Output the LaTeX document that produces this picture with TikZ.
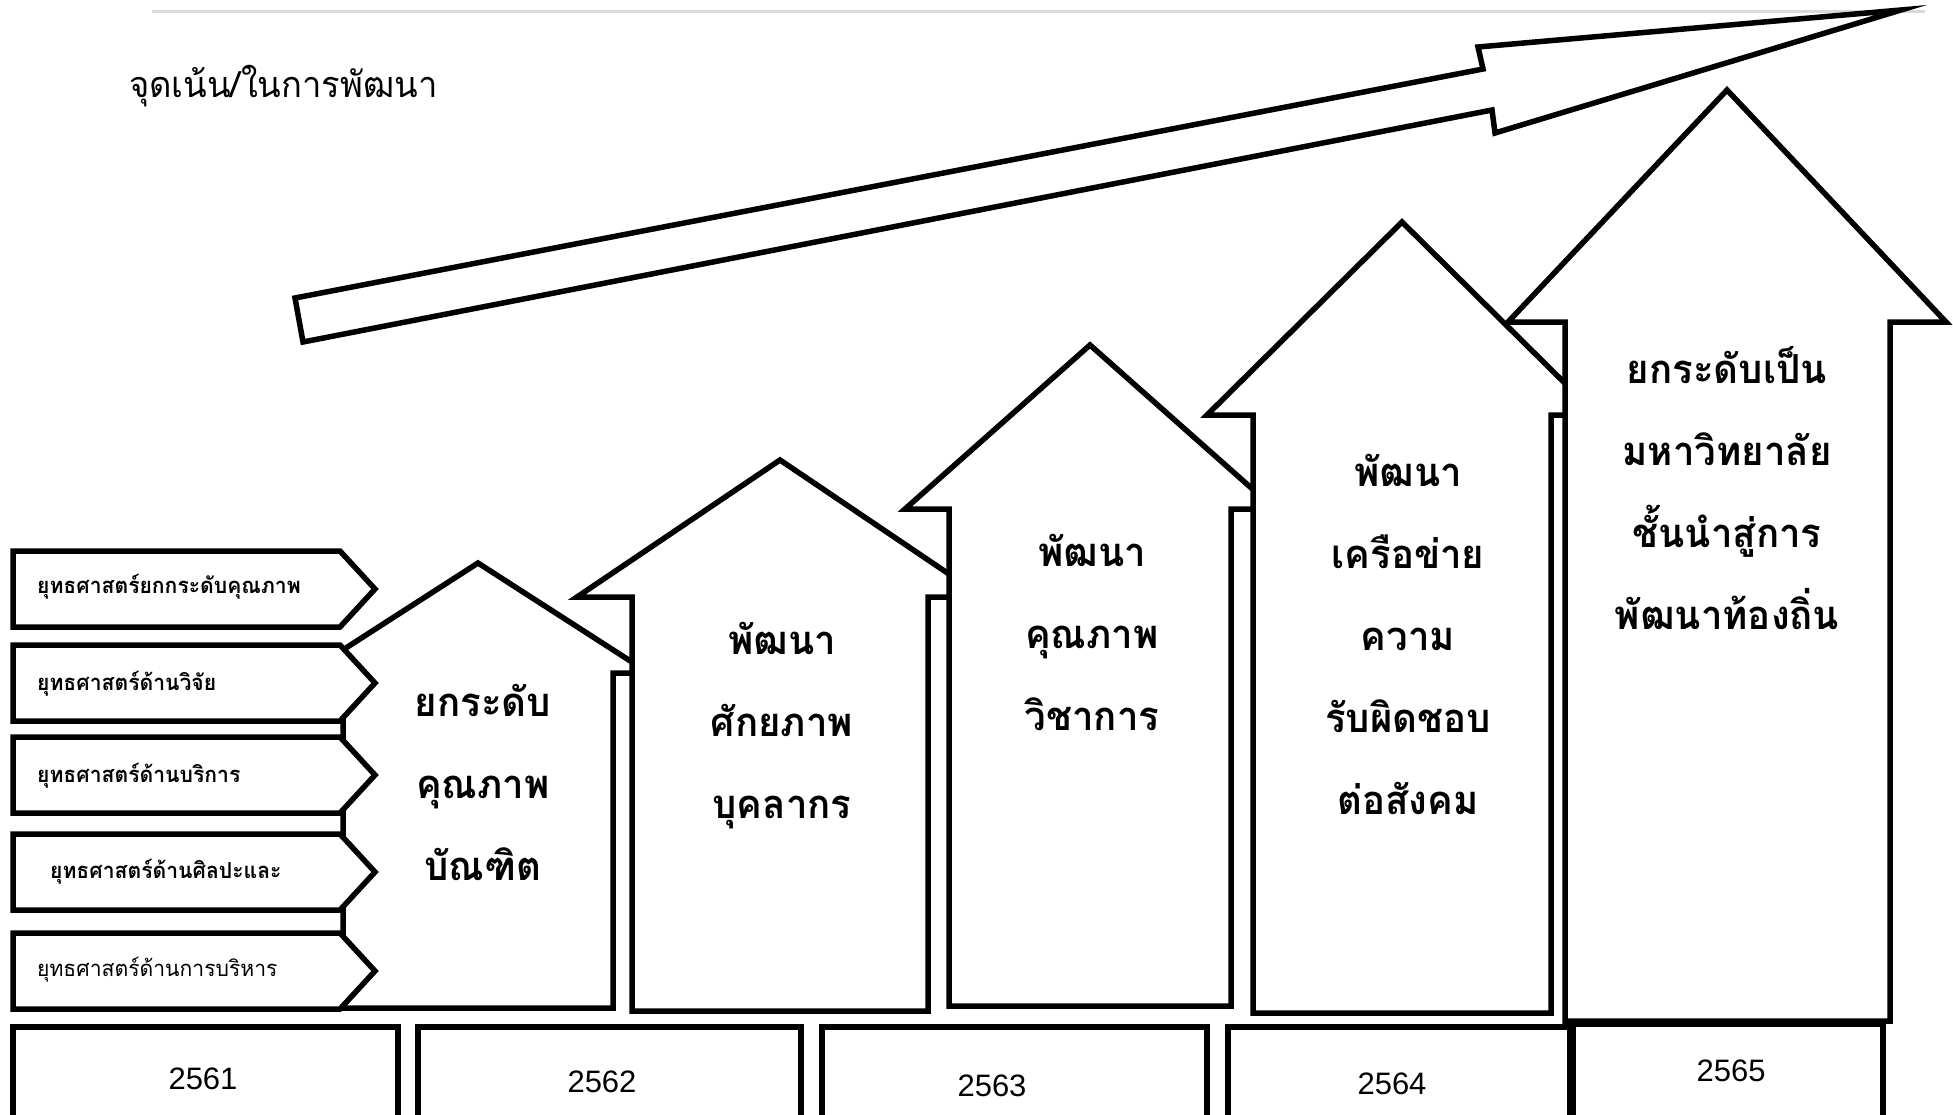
\documentclass[tikz,border=0pt]{standalone}
\usepackage{fontspec}
\setmainfont{Liberation Sans}
\newfontfamily\thaifont[Script=Thai, FakeStretch=0.96]{Loma}
\usetikzlibrary{positioning}
\definecolor{rulegray}{HTML}{D9D9D9}

\begin{document}
\begin{tikzpicture}[x=1pt, y=-1pt,
  block/.style={draw=black, fill=white, line width=5.5pt, line join=miter},
  tabtext/.style={anchor=base west, inner sep=0pt, font=\thaifont\bfseries\fontsize{22}{26}\selectfont},
  tabplain/.style={tabtext, font=\thaifont\fontsize{22}{26}\selectfont},
  housetext/.style={align=center, inner sep=0pt, font=\thaifont\bfseries\fontsize{40}{82}\selectfont},
  titletext/.style={anchor=base west, inner sep=0pt, font=\thaifont\fontsize{36}{42}\selectfont},
  yeartext/.style={inner sep=0pt, font=\fontsize{31}{36}\selectfont}
]
  \clip (0,0) rectangle (1953,1114);

  % Top rule and title
  \draw[rulegray, line width=3pt] (152,11) -- (1925,11);
  \node[titletext] (title) at (129,97) {จุดเน้น/ในการพัฒนา};

  % Long rising arrow
  \draw[block] (295,298) -- (1483,69) -- (1478,47) -- (1901,10) -- (1495,133)
    -- (1492,110) -- (303,342) -- cycle;

  % Stepped up-arrows, left to right
  \draw[block] (343,1008) -- (343,673) -- (307,673) -- (478,563) -- (649,673)
    -- (613,673) -- (613,1008) -- cycle;
  \draw[block] (632,1011) -- (632,597) -- (577,597) -- (780,460) -- (983,597)
    -- (928,597) -- (928,1011) -- cycle;
  \draw[block] (949,1006) -- (949,509) -- (905,509) -- (1090,345) -- (1275,509)
    -- (1231,509) -- (1231,1006) -- cycle;
  \draw[block] (1253,1013) -- (1253,415) -- (1207,415) -- (1402,222) -- (1597,415)
    -- (1551,415) -- (1551,1013) -- cycle;
  \draw[block] (1565,1021) -- (1565,322) -- (1508,322) -- (1727,90) -- (1946,322)
    -- (1890,322) -- (1890,1021) -- cycle;

  \node[housetext] (goal1) at (483,782) {ยกระดับ\\คุณภาพ\\บัณฑิต};
  \node[housetext] (goal2) at (782,726) {พัฒนา\\ศักยภาพ\\บุคลากร};
  \node[housetext] (goal3) at (1092,632) {พัฒนา\\คุณภาพ\\วิชาการ};
  \node[housetext] (goal4) at (1408,634) {พัฒนา\\เครือข่าย\\ความ\\รับผิดชอบ\\ต่อสังคม};
  \node[housetext] (goal5) at (1727,488) {ยกระดับเป็น\\มหาวิทยาลัย\\ชั้นนำสู่การ\\พัฒนาท้องถิ่น};

  % Strategy tabs
  \draw[block] (13,551) -- (340,551) -- (375,589) -- (340,627) -- (13,627) -- cycle;
  \draw[block] (13,645) -- (340,645) -- (375,683) -- (340,721) -- (13,721) -- cycle;
  \draw[block] (13,737) -- (340,737) -- (375,775) -- (340,813) -- (13,813) -- cycle;
  \draw[block] (13,834) -- (340,834) -- (375,872) -- (340,910) -- (13,910) -- cycle;
  \draw[block] (13,933) -- (340,933) -- (375,971) -- (340,1009) -- (13,1009) -- cycle;

  \node[tabtext] (plan1) at (37,593) {ยุทธศาสตร์ยกกระดับคุณภาพ};
  \node[tabtext] (plan2) at (37,690) {ยุทธศาสตร์ด้านวิจัย};
  \node[tabtext] (plan3) at (37,782) {ยุทธศาสตร์ด้านบริการ};
  \node[tabtext] (plan4) at (50,878) {ยุทธศาสตร์ด้านศิลปะและ};
  \node[tabplain] (plan5) at (37,976) {ยุทธศาสตร์ด้านการบริหาร};

  % Year boxes
  \draw[block] (13,1027) rectangle (398,1118);
  \draw[block] (418,1027) rectangle (801,1118);
  \draw[block] (822,1027) rectangle (1207,1118);
  \draw[block] (1228,1027) rectangle (1570,1118);
  \draw[block] (1573,1024) rectangle (1883,1118);

  \node[yeartext] (y2561) at (203,1079) {2561};
  \node[yeartext] (y2562) at (602,1082) {2562};
  \node[yeartext] (y2563) at (992,1086) {2563};
  \node[yeartext] (y2564) at (1392,1084) {2564};
  \node[yeartext] (y2565) at (1731,1071) {2565};
\end{tikzpicture}
\end{document}
